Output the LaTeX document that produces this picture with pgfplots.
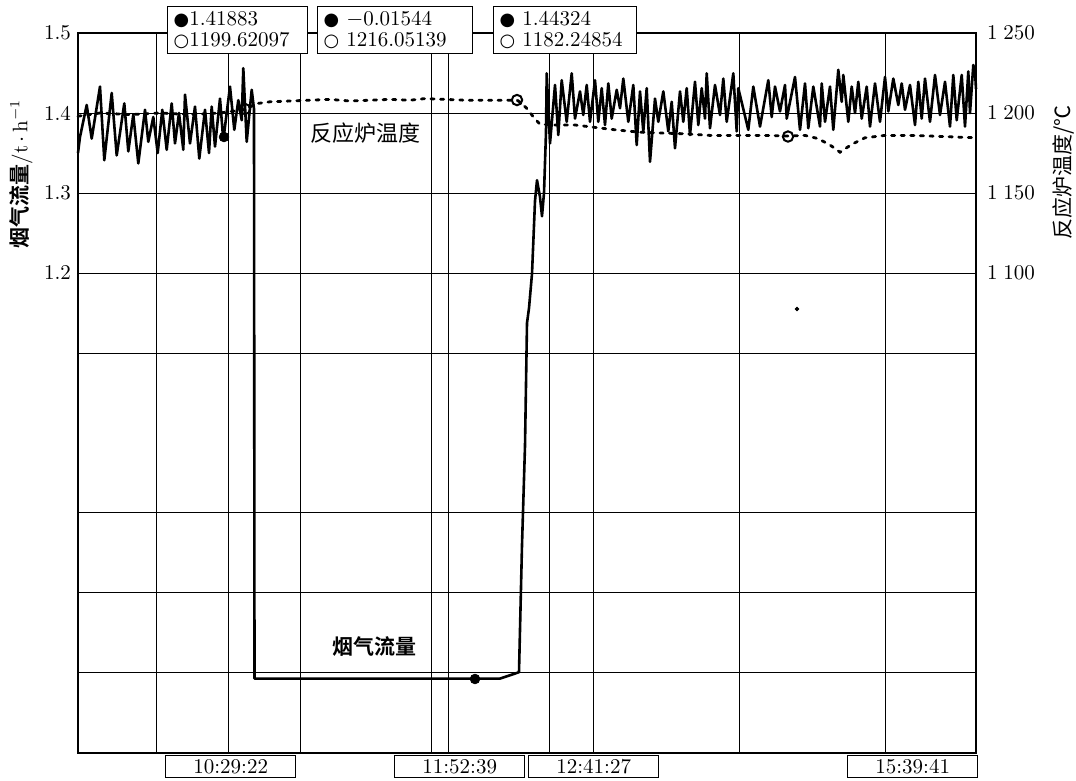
\documentclass[border=0pt]{standalone}
\usepackage{pgfplots}
\pgfplotsset{compat=1.18}
\usepackage{fontspec}
\newfontfamily\cjk{Noto Sans CJK SC}[BoldFont={Noto Sans CJK SC Bold}]
\newfontfamily\sym{DejaVu Sans}[Scale=0.85]
\newcommand{\lf}{\fontsize{10.5}{12}\selectfont}
\tikzset{tbox/.style={draw, line width=0.7pt, fill=white, anchor=north west, minimum width=65pt, minimum height=11pt, inner sep=0pt, font=\lf},
  vbox/.style={draw, line width=0.7pt, fill=white, anchor=north west, inner xsep=3pt, inner ysep=2pt, minimum height=23.5pt, align=left, font=\fontsize{10.5}{10.5}\selectfont}}
\begin{document}
\begin{tikzpicture}
\useasboundingbox (0,0) rectangle (538pt,390.5pt);
\begin{axis}[
  scale only axis, width=449pt, height=360pt, at={(39pt,14pt)}, anchor=south west,
  xmin=78, xmax=976, ymin=0.6, ymax=1.5, clip=false,
  xtick={156,228,300,431,448,549,593,739,885}, xticklabels={},
  ytick={0.7,0.8,0.9,1.1,1.2,1.3,1.4,1.5}, yticklabels={,,,,1.2,1.3,1.4,1.5},
  xmajorgrids, ymajorgrids, grid style={black, line width=0.5pt},
  major tick length=0pt, axis line style={line width=0.8pt},
  yticklabel style={font=\lf},
]
\addplot[black, line width=1.3pt, line join=round] coordinates {
(78,1.350)(80,1.370)(86.7,1.410)(91.7,1.368)(100,1.433)(104.3,1.341)(111.7,1.425)(116.7,1.347)(124.3,1.412)(128.3,1.352)(133.3,1.398)(138.3,1.337)(145,1.404)(148.3,1.364)(153.3,1.395)(157.7,1.350)(162.3,1.404)(166.7,1.354)(171.7,1.412)(175,1.362)(179,1.400)(183.3,1.354)(185,1.423)(190,1.362)(195,1.408)(199.3,1.343)(205,1.404)(209,1.350)(211.7,1.408)(215,1.358)(220,1.418)(223.3,1.366)(230,1.433)(234.3,1.379)(238.3,1.416)(241.7,1.391)(243.3,1.456)(246.7,1.364)(251.7,1.429)(254,1.405)
(254.5,0.693)(500,0.693)(519,0.701)
(522,0.86)(525,0.984)(527,1.1375)(529,1.156)(532,1.199)(535,1.29)(537,1.316)(540,1.295)(542,1.271)(544,1.30)(546,1.376)(546.7,1.4496)
(550,1.362)(555,1.435)(558.3,1.3725)(561.7,1.441)(566.7,1.389)(571.7,1.4496)(575,1.393)(580,1.427)(583.3,1.3975)(586.7,1.435)(590,1.389)(595,1.441)(598.3,1.389)(601.7,1.431)(605,1.385)(608.3,1.437)(611.7,1.393)(616.7,1.429)(620,1.406)(623.3,1.443)(628.3,1.389)(633.3,1.435)(636.7,1.36)(640,1.427)(643.3,1.377)(646.7,1.431)(650,1.339)(655,1.418)(658.3,1.389)(663.3,1.427)(668.3,1.377)(671.7,1.414)(675,1.356)(680,1.427)(683.3,1.389)(686.7,1.431)(690,1.3725)(695,1.439)(698.3,1.385)(701.7,1.431)(705,1.393)(706.7,1.4496)(710,1.381)(715,1.435)(720,1.3975)(723.3,1.443)(726.7,1.389)(733.3,1.4496)(736.7,1.377)
(738.3,1.431)(748.3,1.379)(753.3,1.433)(760,1.383)(768.3,1.441)(771.7,1.395)(775,1.433)(780,1.402)(785,1.435)(786.7,1.393)(795,1.445)(800,1.379)(805,1.437)(808.3,1.381)(813.3,1.433)(820,1.383)(821.7,1.437)(825,1.389)(830,1.433)(833.3,1.379)(838.3,1.454)(841.7,1.414)(843.3,1.4475)(848.3,1.389)(851.7,1.433)(855,1.40)(858.3,1.439)(861.7,1.393)(866.7,1.433)(870,1.383)(875,1.437)(880,1.389)(885,1.445)(888.3,1.402)(893.3,1.443)(898.3,1.41)(901.7,1.437)(905,1.404)(910,1.435)(915,1.385)(918.3,1.439)(921.7,1.393)(925,1.443)(930,1.389)(935,1.4475)(940,1.3975)(945,1.439)(950,1.383)(953.3,1.4475)(956.7,1.391)(961.7,1.4475)(965,1.383)(968.3,1.452)(970,1.40)(973.3,1.46)(975,1.452)(976,1.43)
};
\addplot[only marks, mark=*, mark size=2.4pt, black] coordinates {(224,1.370)(475,0.6925)};
\addplot[only marks, mark=*, mark size=0.9pt, black] coordinates {(797,1.155)};
\end{axis}
\begin{axis}[
  scale only axis, width=449pt, height=360pt, at={(39pt,14pt)}, anchor=south west,
  xmin=78, xmax=976, ymin=800, ymax=1250, clip=false,
  axis x line=none, axis y line*=right,
  ytick={1100,1150,1200,1250},
  yticklabels={1\hspace{0.28em}100,1\hspace{0.28em}150,1\hspace{0.28em}200,1\hspace{0.28em}250},
  major tick length=0pt, axis line style={line width=0.8pt},
  yticklabel style={font=\lf, xshift=2pt},
]
\addplot[black, line width=1.4pt, dash pattern=on 1.6pt off 3.2pt, line cap=round] coordinates {
(78,1198)(100,1200)(130,1199)(160,1200)(190,1199)(220,1200)(243,1202)(258,1206)(270,1207)(290,1207.5)(310,1208)(330,1208.5)(350,1207.5)(370,1208)(390,1208.5)(410,1208)(425,1209)(445,1208.5)(465,1208)(485,1208)(505,1208)(517,1208)(522,1206)(528,1202)(534,1197)(540,1193)(555,1192.5)(575,1192.5)(595,1191)(615,1189.5)(640,1188)(660,1187.5)(685,1187)(710,1186)(740,1186)(765,1186)(788,1185.6)(805,1186)(818,1184)(830,1180)(840,1175.5)(852,1180.5)(865,1184.5)(885,1186)(910,1186)(935,1185.5)(955,1185)(976,1184.5)
};
\addplot[only marks, mark=o, mark size=2.6pt, line width=1pt, black, mark options={fill=white}] coordinates {(245,1202.5)(517,1208.1)(788,1185.3)};
% cursor value boxes
\node[vbox, text width=64pt] at (axis cs:167,1266.9) {{\sym ●}1.41883\\{\sym ○}1199.62097};
\node[vbox, text width=71.5pt] at (axis cs:317,1266.9) {{\sym ●} $-$0.01544\\{\sym ○} 1216.05139};
\node[vbox, text width=65.5pt] at (axis cs:493,1266.9) {{\sym ●} 1.44324\\{\sym ○} 1182.24854};
% time boxes
\node[tbox] at (axis cs:165,798.75) {10:29:22};
\node[tbox] at (axis cs:394,798.75) {11:52:39};
\node[tbox] at (axis cs:528,798.75) {12:41:27};
\node[tbox] at (axis cs:847,798.75) {15:39:41};
% labels
\node[font=\cjk\fontsize{11}{12}\selectfont] at (axis cs:365,1187.5) {反应炉温度};
\node[font=\cjk\bfseries\fontsize{10.5}{12}\selectfont] at (axis cs:374,866.25) {烟气流量};
\node[rotate=90, font=\fontsize{10.5}{12}\selectfont] at (axis cs:21,1162) {{\cjk\bfseries 烟气流量}/t\,$\cdot$\,h$^{-1}$};
\node[rotate=90, font=\cjk\fontsize{10.5}{12}\selectfont] at (axis cs:1063,1163) {反应炉温度/℃};
\end{axis}
\end{tikzpicture}
\end{document}
